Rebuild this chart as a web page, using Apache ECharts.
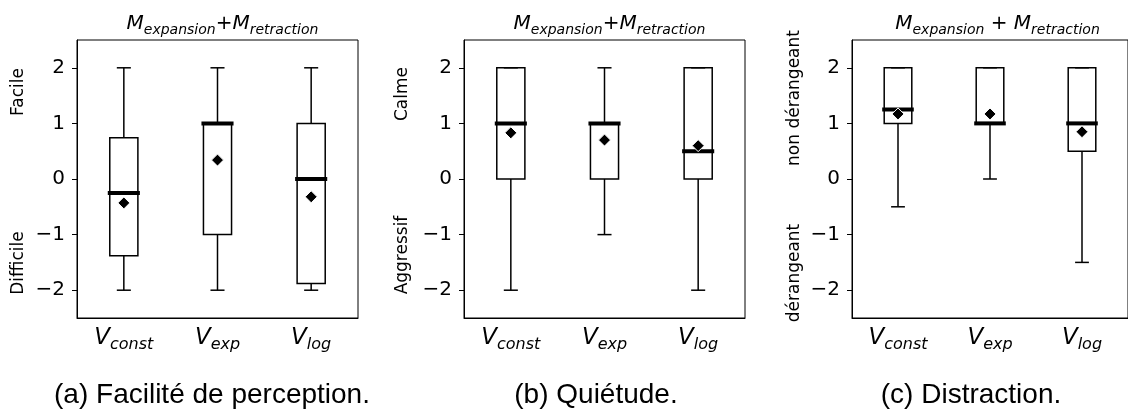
<!DOCTYPE html>
<html>
<head>
<meta charset="utf-8">
<script src="https://cdn.jsdelivr.net/npm/echarts@6/dist/echarts.min.js"></script>
<style>
html, body { margin: 0; padding: 0; background: #fff; }
#chart { width: 1128px; height: 412px; }
</style>
</head>
<body>
<div id="chart"></div>
<script>
// Condition subscripts shown under each box (V_const, V_exp, V_log)
const categories = ['const', 'exp', 'log'];
const yTicks = [-2, -1, 0, 1, 2];

// Box statistics per condition: [lower whisker, Q1, median, Q3, upper whisker]
const facilityStats = [
  [-2, -1.38, -0.25, 0.74, 2],
  [-2, -1, 1, 1, 2],
  [-2, -1.88, 0, 1, 2]
];
const facilityMeans = [-0.43, 0.34, -0.32];

const quietStats = [
  [-2, 0, 1, 2, 2],
  [-1, 0, 1, 1, 2],
  [-2, 0, 0.5, 2, 2]
];
const quietMeans = [0.83, 0.70, 0.60];

const distractionStats = [
  [-0.5, 1, 1.25, 2, 2],
  [0, 1, 1, 2, 2],
  [-1.5, 0.5, 1, 2, 2]
];
const distractionMeans = [1.17, 1.17, 0.85];

const panelTitles = [
  '{m|M}{s|expansion}{p|+}{m|M}{s|retraction}',
  '{m|M}{s|expansion}{p|+}{m|M}{s|retraction}',
  '{m|M}{s|expansion}{p| + }{m|M}{s|retraction}'
];
const topLabels = ['Facile', 'Calme', 'non dérangeant'];
const bottomLabels = ['Difficile', 'Aggressif', 'dérangeant'];
const captions = ['(a) Facilité de perception.', '(b) Quiétude.', '(c) Distraction.'];

const statsByPanel = [facilityStats, quietStats, distractionStats];
const meansByPanel = [facilityMeans, quietMeans, distractionMeans];

// Layout of the three plot frames
const frames = [
  { left: 77, side: { x: 19, top: 92, bottom: 263 }, caption: 212 },
  { left: 464, side: { x: 403, top: 94, bottom: 255 }, caption: 596 },
  { left: 852, side: { x: 795, top: 98, bottom: 273 }, caption: 971 }
];
const FRAME_TOP = 40, FRAME_W = 281, FRAME_H = 278;

const MATH = 'DejaVu Sans';

function minusFmt(v) {
  return v < 0 ? '\u2212' + (-v) : String(v);
}

function renderBox(params, api) {
  const x = api.value(0);
  const lo = api.coord([x, api.value(1)]);
  const q1 = api.coord([x, api.value(2)]);
  const med = api.coord([x, api.value(3)]);
  const q3 = api.coord([x, api.value(4)]);
  const hi = api.coord([x, api.value(5)]);
  const band = api.size([1, 0])[0];
  const bw = band * 0.3;
  const cw = bw / 2;
  const cx = lo[0];
  const ln = { stroke: '#000', lineWidth: 1.5 };
  return {
    type: 'group',
    children: [
      { type: 'line', shape: { x1: cx, y1: lo[1], x2: cx, y2: q1[1] }, style: ln },
      { type: 'line', shape: { x1: cx, y1: q3[1], x2: cx, y2: hi[1] }, style: ln },
      { type: 'line', shape: { x1: cx - cw / 2, y1: lo[1], x2: cx + cw / 2, y2: lo[1] }, style: ln },
      { type: 'line', shape: { x1: cx - cw / 2, y1: hi[1], x2: cx + cw / 2, y2: hi[1] }, style: ln },
      { type: 'rect', shape: { x: cx - bw / 2, y: q3[1], width: bw, height: q1[1] - q3[1] },
        style: { fill: 'none', stroke: '#000', lineWidth: 1.5 } },
      { type: 'line', shape: { x1: cx - bw / 2 - 2, y1: med[1], x2: cx + bw / 2 + 2, y2: med[1] },
        style: { stroke: '#000', lineWidth: 4 } }
    ]
  };
}

const grid = [], xAxis = [], yAxis = [], series = [], title = [], graphic = [];

frames.forEach((f, i) => {
  grid.push({
    left: f.left, top: FRAME_TOP, width: FRAME_W, height: FRAME_H,
    show: true, borderColor: '#000', borderWidth: 1, backgroundColor: 'transparent'
  });
  xAxis.push({
    type: 'category', gridIndex: i, data: categories, boundaryGap: true,
    axisLine: { onZero: false, lineStyle: { color: '#000', width: 1 } },
    axisTick: { alignWithLabel: true, interval: 0, length: 5, lineStyle: { color: '#000', width: 1 } },
    splitLine: { show: false },
    axisLabel: {
      margin: 9, interval: 0, hideOverlap: false,
      formatter: v => '{v|V}{s|' + v + '}',
      rich: {
        v: { fontFamily: MATH, fontStyle: 'italic', fontWeight: 'normal', fontSize: 23, color: '#000',
             verticalAlign: 'bottom', lineHeight: 26, padding: [0, 0, 3, 0] },
        s: { fontFamily: MATH, fontStyle: 'italic', fontWeight: 'normal', fontSize: 16, color: '#000',
             verticalAlign: 'bottom', lineHeight: 18 }
      }
    }
  });
  yAxis.push({
    type: 'value', gridIndex: i, min: -2.5, max: 2.5,
    axisLine: { show: true, onZero: false, lineStyle: { color: '#000', width: 1 } },
    axisTick: { show: true, length: 5, customValues: yTicks, lineStyle: { color: '#000', width: 1 } },
    splitLine: { show: false },
    axisLabel: {
      customValues: yTicks, formatter: minusFmt, margin: 12,
      fontFamily: 'DejaVu Sans', fontSize: 20, color: '#000'
    }
  });
  series.push({
    type: 'custom', xAxisIndex: i, yAxisIndex: i,
    renderItem: renderBox,
    encode: { x: 0, y: [1, 2, 3, 4, 5] },
    data: statsByPanel[i].map((s, k) => [k].concat(s)),
    z: 2
  });
  series.push({
    type: 'scatter', xAxisIndex: i, yAxisIndex: i,
    symbol: 'diamond', symbolSize: 12,
    itemStyle: { color: '#000', borderColor: '#fff', borderWidth: 1, opacity: 1 },
    data: meansByPanel[i].map((m, k) => [k, m]),
    z: 3
  });
  title.push({
    text: panelTitles[i],
    left: f.left + FRAME_W / 2, top: 8, textAlign: 'center',
    textStyle: {
      fontWeight: 'normal',
      rich: {
        m: { fontFamily: MATH, fontStyle: 'italic', fontWeight: 'normal', fontSize: 20, color: '#000',
             verticalAlign: 'bottom', lineHeight: 24, padding: [0, 0, 3, 0] },
        p: { fontFamily: MATH, fontWeight: 'normal', fontSize: 20, color: '#000',
             verticalAlign: 'bottom', lineHeight: 24, padding: [0, 0, 3, 0] },
        s: { fontFamily: MATH, fontStyle: 'italic', fontWeight: 'normal', fontSize: 14, color: '#000',
             verticalAlign: 'bottom', lineHeight: 16 }
      }
    }
  });
  graphic.push({
    type: 'text', x: f.side.x, y: f.side.top, rotation: Math.PI / 2,
    style: { text: topLabels[i], font: '17px "DejaVu Sans"', fill: '#000',
             align: 'center', verticalAlign: 'middle' }
  });
  graphic.push({
    type: 'text', x: f.side.x, y: f.side.bottom, rotation: Math.PI / 2,
    style: { text: bottomLabels[i], font: '17px "DejaVu Sans"', fill: '#000',
             align: 'center', verticalAlign: 'middle' }
  });
  graphic.push({
    type: 'text', x: f.caption, y: 395,
    style: { text: captions[i], font: '28px "Liberation Sans"', fill: '#000',
             align: 'center', verticalAlign: 'middle' }
  });
});

const chart = echarts.init(document.getElementById('chart'), null, { renderer: 'canvas' });
chart.setOption({
  animation: false,
  backgroundColor: '#fff',
  title, grid, xAxis, yAxis, series, graphic
});
</script>
</body>
</html>
